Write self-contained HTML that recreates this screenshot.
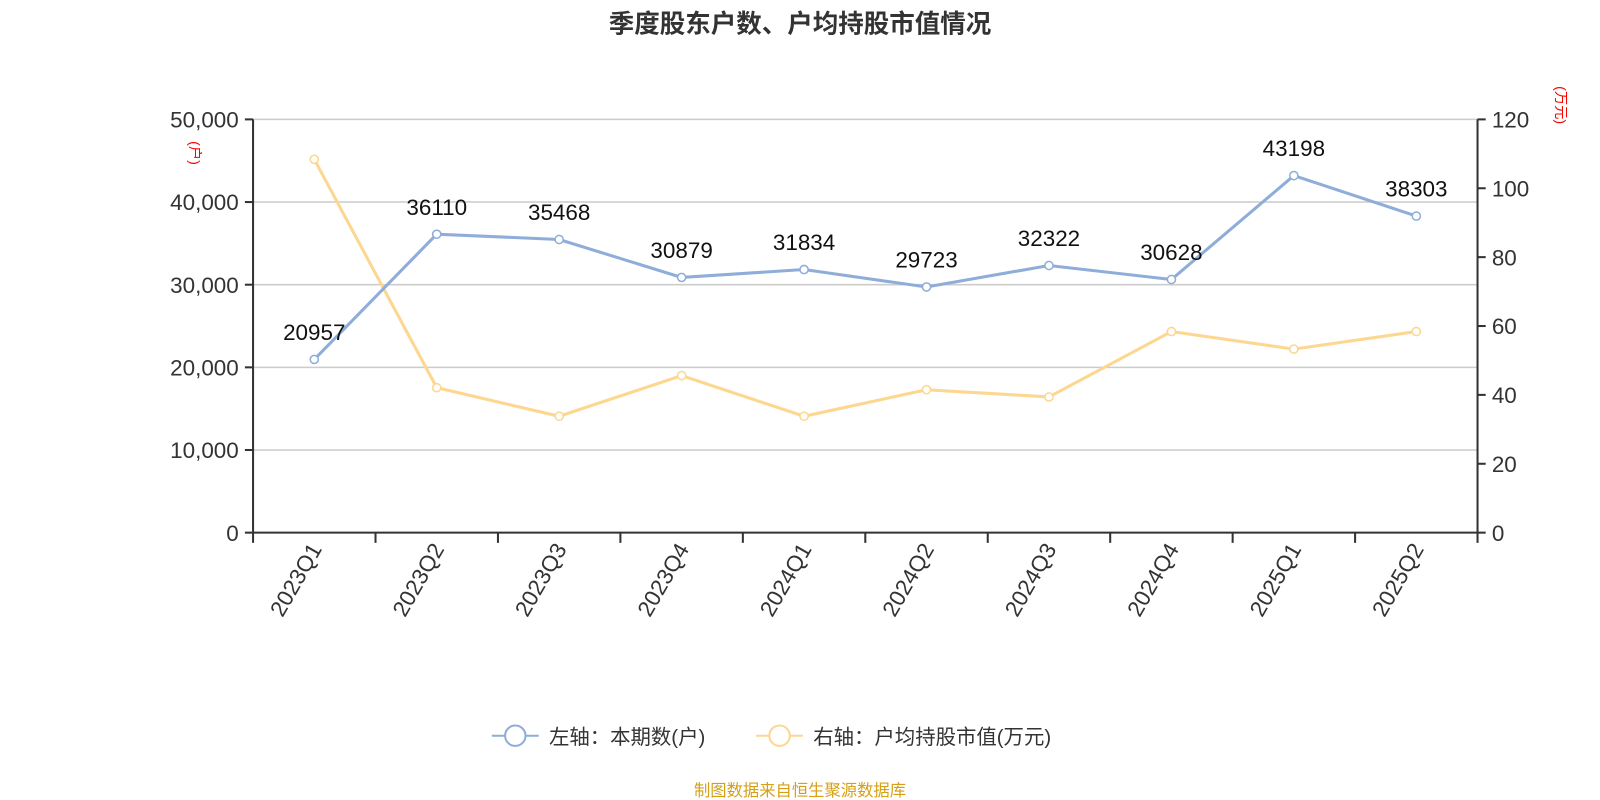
<!DOCTYPE html>
<html><head><meta charset="utf-8"><style>
body{margin:0;background:#fff;}
svg{display:block;font-family:"Liberation Sans","Noto Sans CJK SC",sans-serif;}
</style></head><body>
<svg id="c" width="1600" height="800">
<g transform="scale(1.0204)">
<text x="784" y="32" text-anchor="middle" font-size="25" font-weight="bold" fill="#333">季度股东户数、户均持股市值情况</text>
<text transform="translate(186,150) rotate(90)" text-anchor="middle" font-size="14" fill="#f00">(户)</text>
<text transform="translate(1525,103) rotate(90)" text-anchor="middle" font-size="14" fill="#f00">(万元)</text>
<g id="grid"></g><g id="axes"></g><g id="series"></g>
<g>
<g>
<line x1="482" y1="721" x2="528" y2="721" stroke="#8eadd9" stroke-width="2"/>
<circle cx="505" cy="721" r="10" fill="#fff" stroke="#8eadd9" stroke-width="2"/>
<text x="538" y="729" font-size="20" fill="#333">左轴：本期数(户)</text></g>
<g>
<line x1="741" y1="721" x2="787" y2="721" stroke="#fdd68f" stroke-width="2"/>
<circle cx="764" cy="721" r="10" fill="#fff" stroke="#fdd68f" stroke-width="2"/>
<text x="797" y="729" font-size="20" fill="#333">右轴：户均持股市值(万元)</text></g>
</g>
<text x="784" y="780" text-anchor="middle" font-size="16" fill="#d4a017">制图数据来自恒生聚源数据库</text>
</g>
</svg>
<script>
const categories=["2023Q1","2023Q2","2023Q3","2023Q4","2024Q1","2024Q2","2024Q3","2024Q4","2025Q1","2025Q2"];
const holders=[20957,36110,35468,30879,31834,29723,32322,30628,43198,38303];
const avgValue=[108.4,42.1,33.8,45.6,33.8,41.5,39.4,58.4,53.3,58.4];
const leftTicks=[0,10000,20000,30000,40000,50000];
const rightTicks=[0,20,40,60,80,100,120];
const NS="http://www.w3.org/2000/svg";
const L=248,R=1448,T=117,B=522,bw=(R-L)/categories.length;
const xS=i=>L+bw*(i+0.5);
const yL=v=>B-(v/50000)*(B-T);
const yR=v=>B-(v/120)*(B-T);
function mk(tag,attrs,parent,txt){const e=document.createElementNS(NS,tag);for(const k in attrs)e.setAttribute(k,attrs[k]);if(txt!==undefined)e.textContent=txt;parent.appendChild(e);return e;}
const grid=document.getElementById('grid'),axes=document.getElementById('axes'),ser=document.getElementById('series');
leftTicks.forEach(v=>{const y=yL(v);
 if(v>0){const g=mk('line',{x1:L,x2:R,y1:y,y2:y,stroke:'#ccc','stroke-width':1.5},grid);}
 mk('line',{x1:L-8,x2:L,y1:y,y2:y,stroke:'#333','stroke-width':2},axes);
 const t=mk('text',{x:L-14,y:y+8,'text-anchor':'end','font-size':22,fill:'#333'},axes,v.toLocaleString('en-US'));
 });
rightTicks.forEach(v=>{const y=yR(v);
 mk('line',{x1:R,x2:R+8,y1:y,y2:y,stroke:'#333','stroke-width':2},axes);
 const t=mk('text',{x:R+14,y:y+8,'font-size':22,fill:'#333'},axes,String(v));
 });
mk('line',{x1:L,x2:L,y1:T,y2:B,stroke:'#333','stroke-width':2},axes);
mk('line',{x1:R,x2:R,y1:T,y2:B,stroke:'#333','stroke-width':2},axes);
mk('line',{x1:L,x2:R,y1:B,y2:B,stroke:'#333','stroke-width':2},axes);
for(let i=0;i<=categories.length;i++){const x=L+bw*i;mk('line',{x1:x,x2:x,y1:B,y2:B+10,stroke:'#333','stroke-width':2},axes);}
categories.forEach((c,i)=>{const x=xS(i);
 const t=mk('text',{transform:`translate(${x+8},${B+16}) rotate(-60)`,'text-anchor':'end','font-size':22,fill:'#333'},axes,c);
 });
function line(vals,ys,color,name){
 const p=mk('polyline',{points:vals.map((v,i)=>xS(i)+','+ys(v)).join(' '),fill:'none',stroke:color,'stroke-width':3},ser);
 
 vals.forEach((v,i)=>{const c=mk('circle',{cx:xS(i),cy:ys(v),r:4,fill:'#fff',stroke:color,'stroke-width':1.5},ser);
  });
}
line(avgValue,yR,'#fdd68f','avg-value');
line(holders,yL,'#8eadd9','holders');
holders.forEach((v,i)=>{const t=mk('text',{x:xS(i),y:yL(v)-19,'text-anchor':'middle','font-size':22,fill:'#111'},ser,String(v));
 });
</script>
</body></html>
